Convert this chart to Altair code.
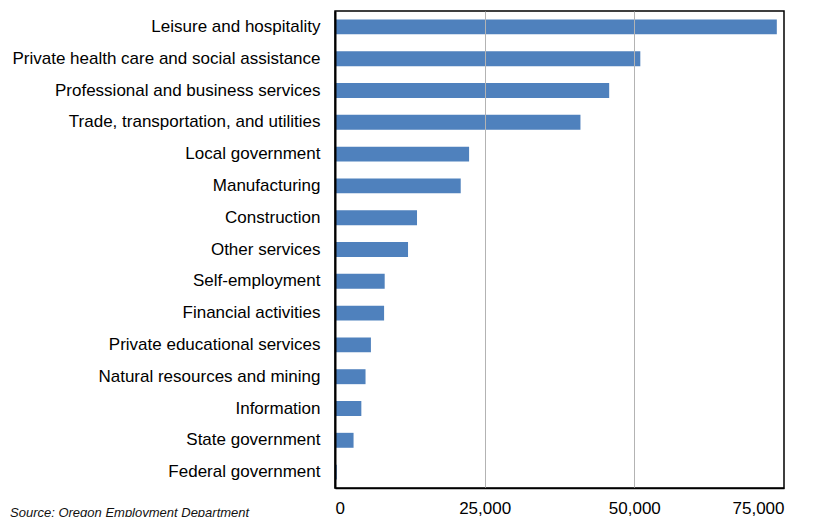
import altair as alt
import pandas as pd

categories = [
    "Leisure and hospitality",
    "Private health care and social assistance",
    "Professional and business services",
    "Trade, transportation, and utilities",
    "Local government",
    "Manufacturing",
    "Construction",
    "Other services",
    "Self-employment",
    "Financial activities",
    "Private educational services",
    "Natural resources and mining",
    "Information",
    "State government",
    "Federal government",
]
values = [73800, 51000, 45800, 41000, 22400, 21000, 13700, 12200,
          8300, 8200, 6000, 5100, 4400, 3100, 300]
x_ticks = [0, 25000, 50000, 75000]
source_text = ["Source: Oregon Employment Department"]

df = pd.DataFrame({"category": categories, "value": values})
src = pd.DataFrame({"text": source_text})

FONT = "Liberation Sans"

grid_color = {
    "condition": {"test": "datum.value <= 0 || datum.value >= 75000", "value": "transparent"},
    "value": "#b3b3b3",
}

bars = alt.Chart(df).mark_bar(color="#4F81BD").encode(
    x=alt.X(
        "value:Q",
        scale=alt.Scale(domain=[0, 75000], nice=False),
        axis=alt.Axis(
            values=x_ticks, format=",.0f", title=None, ticks=False,
            domain=True, domainColor="#000", domainWidth=1.5,
            labelPadding=12, labelFontSize=17, labelFont=FONT, labelColor="#000",
            grid=True, gridColor=grid_color, gridWidth=1, zindex=1,
        ),
    ),
    y=alt.Y(
        "category:N",
        sort=categories,
        scale=alt.Scale(paddingInner=0.53, paddingOuter=0.265),
        axis=alt.Axis(
            title=None, ticks=False, domain=True, domainColor="#000",
            domainWidth=2, labelPadding=15,
            labelFontSize=17, labelFont=FONT, labelColor="#000", labelLimit=500,
            grid=False, zindex=1,
        ),
    ),
)

source = alt.Chart(src).mark_text(
    align="left", baseline="alphabetic", fontSize=13, font=FONT,
    fontStyle="italic", color="#111",
).encode(
    text="text:N",
    x=alt.value(-325),
    y=alt.value(506),
)

chart = alt.layer(bars, source).properties(
    width=449,
    height=477,
    background="white",
    autosize=alt.AutoSizeParams(type="none"),
    padding={"left": 327, "top": 3, "right": 20, "bottom": 29},
).configure_view(
    stroke="#000", strokeWidth=1.5,
)

chart.save("out.html", embed_options={"renderer": "svg", "actions": False})
